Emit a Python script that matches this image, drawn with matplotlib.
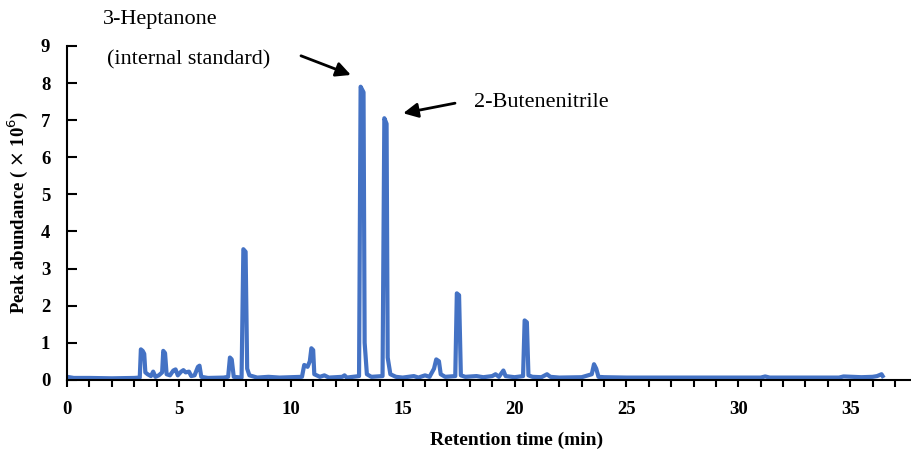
import matplotlib
matplotlib.use('Agg')
import matplotlib.pyplot as plt
from matplotlib.ticker import MultipleLocator

# retention time (min) and peak abundance (x 10^6)
rt = [0.0, 0.3, 1.0, 2.0, 3.0, 3.25, 3.3, 3.38, 3.45, 3.5, 3.6, 3.75, 3.85, 3.95,
      4.1, 4.25, 4.3, 4.38, 4.45, 4.6, 4.75, 4.85, 4.95, 5.1, 5.2, 5.3, 5.45, 5.55,
      5.7, 5.85, 5.92, 6.0, 6.3, 7.0, 7.2, 7.28, 7.36, 7.45, 7.8, 7.88, 7.98, 8.05,
      8.15, 8.5, 9.0, 9.5, 10.0, 10.5, 10.6, 10.75, 10.85, 10.92, 11.0, 11.05, 11.3,
      11.5, 11.7, 12.3, 12.4, 12.5, 13.05, 13.12, 13.25, 13.3, 13.4, 13.6, 14.1,
      14.18, 14.28, 14.33, 14.45, 14.7, 15.0, 15.5, 15.7, 16.0, 16.2, 16.4, 16.5,
      16.62, 16.7, 16.9, 17.35, 17.42, 17.52, 17.6, 17.8, 18.3, 18.6, 19.0, 19.15,
      19.3, 19.5, 19.6, 20.0, 20.38, 20.45, 20.55, 20.62, 20.8, 21.2, 21.45, 21.6,
      22.0, 23.0, 23.45, 23.55, 23.65, 23.75, 24.0, 25.0, 27.0, 29.0, 31.0, 31.2,
      31.4, 33.0, 34.5, 34.7, 35.5, 36.0, 36.2, 36.4, 36.45]
abund = [0.08, 0.05, 0.05, 0.04, 0.05, 0.06, 0.82, 0.78, 0.7, 0.2, 0.15, 0.1, 0.22, 0.08,
         0.12, 0.2, 0.78, 0.72, 0.15, 0.12, 0.25, 0.28, 0.12, 0.22, 0.26, 0.2, 0.22, 0.1,
         0.12, 0.35, 0.38, 0.08, 0.05, 0.06, 0.08, 0.6, 0.55, 0.08, 0.06, 3.52, 3.45, 0.3,
         0.12, 0.06, 0.08, 0.06, 0.07, 0.08, 0.4, 0.35, 0.5, 0.85, 0.8, 0.15, 0.08,
         0.12, 0.06, 0.08, 0.12, 0.06, 0.1, 7.9, 7.75, 1.0, 0.15, 0.08, 0.1,
         7.05, 6.9, 0.6, 0.15, 0.08, 0.06, 0.1, 0.06, 0.12, 0.08, 0.3, 0.55,
         0.5, 0.15, 0.08, 0.1, 2.33, 2.28, 0.12, 0.08, 0.1, 0.07, 0.1, 0.15,
         0.08, 0.25, 0.1, 0.07, 0.1, 1.6, 1.55, 0.12, 0.08, 0.07, 0.15, 0.08,
         0.06, 0.07, 0.15, 0.42, 0.3, 0.08, 0.07, 0.06, 0.06, 0.06, 0.06, 0.09,
         0.06, 0.06, 0.06, 0.09, 0.07, 0.08, 0.1, 0.15, 0.1]

plt.rcParams['font.family'] = ['Liberation Serif', 'DejaVu Serif']

fig = plt.figure(figsize=(9.12, 4.5), dpi=100)
ax = fig.add_axes([0.0735, 0.156, 0.925, 0.742])

ax.plot(rt, abund, color='#4472C4', linewidth=3, solid_joinstyle='round')

ax.set_xlim(0, 37.7)
ax.set_ylim(0, 9)
ax.xaxis.set_major_locator(MultipleLocator(5))
ax.xaxis.set_minor_locator(MultipleLocator(1))
ax.yaxis.set_major_locator(MultipleLocator(1))
ax.tick_params(axis='x', which='both', direction='out', length=5, width=1.5,
               labelsize=13.5, pad=10)
ax.tick_params(axis='y', direction='in', length=7, width=1.5, labelsize=13.5, pad=12)
for lab in ax.get_xticklabels() + ax.get_yticklabels():
    lab.set_fontweight('bold')

ax.spines['top'].set_visible(False)
ax.spines['right'].set_visible(False)
ax.spines['left'].set_linewidth(1.5)
ax.spines['bottom'].set_linewidth(1.5)

ax.set_xlabel('Retention time (min)', fontsize=14, fontweight='bold')
ax.xaxis.set_label_coords(0.533, -0.155)
ax.set_ylabel('Peak abundance ( $\\times$ 10$^6$)', fontsize=13.5, fontweight='bold',
              labelpad=8)

ax.text(1.6, 9.7, '3-Heptanone', fontsize=16, va='center', ha='left')
ax.text(1.8, 8.63, '(internal standard)', fontsize=16, va='center', ha='left')
ax.annotate('', xy=(12.8, 8.19), xytext=(10.34, 8.76),
            arrowprops=dict(arrowstyle='-|>', color='black', lw=2,
                            mutation_scale=22), annotation_clip=False)
ax.text(18.2, 7.47, '2-Butenenitrile', fontsize=16, va='center', ha='left')
ax.annotate('', xy=(14.9, 7.17), xytext=(17.46, 7.47),
            arrowprops=dict(arrowstyle='-|>', color='black', lw=2,
                            mutation_scale=22), annotation_clip=False)

fig.savefig('out.png', dpi=100)
